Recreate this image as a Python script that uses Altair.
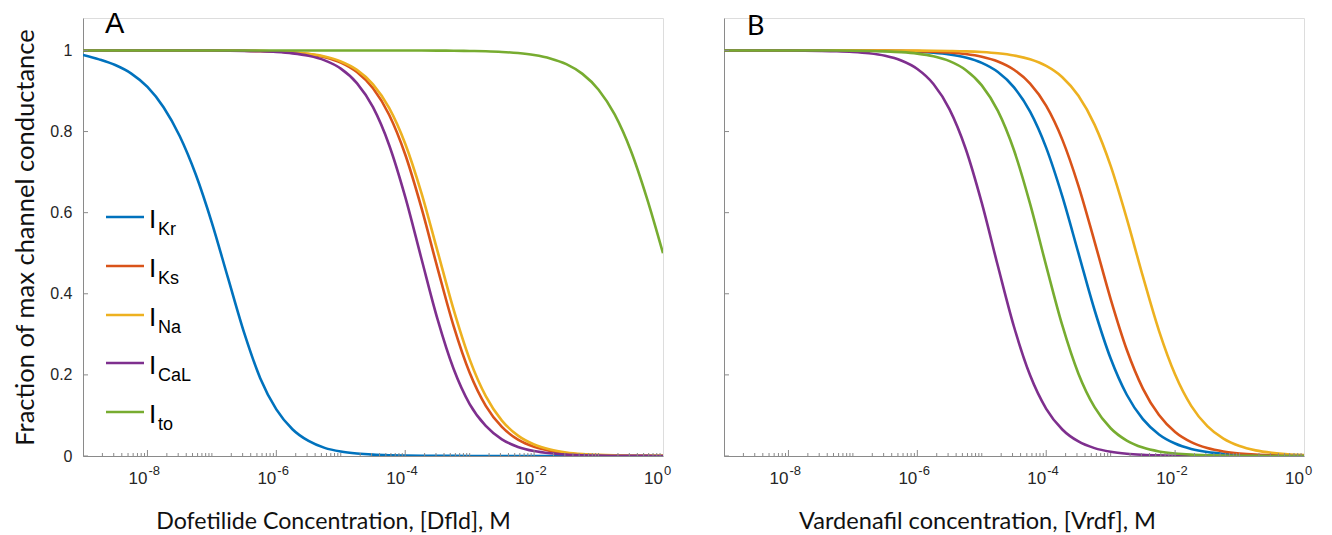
import altair as alt
import pandas as pd

# concentrations (M), quarter-decade steps from 1e-9 to 1
conc = [1e-9, 1.778e-9, 3.162e-9, 5.623e-9, 1e-8, 1.778e-8, 3.162e-8, 5.623e-8,
        1e-7, 1.778e-7, 3.162e-7, 5.623e-7, 1e-6, 1.778e-6, 3.162e-6, 5.623e-6,
        1e-5, 1.778e-5, 3.162e-5, 5.623e-5, 1e-4, 1.778e-4, 3.162e-4, 5.623e-4,
        1e-3, 1.778e-3, 3.162e-3, 5.623e-3, 1e-2, 1.778e-2, 3.162e-2, 5.623e-2,
        1e-1, 1.778e-1, 3.162e-1, 5.623e-1, 1.0]

channels = ["IKr", "IKs", "INa", "ICaL", "Ito"]
subs = ["Kr", "Ks", "Na", "CaL", "to"]
colors = ["#0072BD", "#D95319", "#EDB120", "#7E2F8E", "#77AC30"]

# Panel A: dofetilide
dfld_IKr = [0.989, 0.978, 0.964, 0.943, 0.91, 0.86, 0.789, 0.694, 0.575, 0.439, 0.304, 0.192,
            0.115, 0.066, 0.037, 0.020, 0.011, 0.0061, 0.0033, 0.0018, 0.001, 0.0005, 0.0003,
            0.0002, 0.0001, 0, 0, 0, 0, 0, 0, 0, 0, 0, 0, 0, 0]
dfld_IKs = [1.0, 1.0, 1.0, 1.0, 1.0, 1.0, 0.9999, 0.9999, 0.9998, 0.9996, 0.9992, 0.9985,
            0.9973, 0.995, 0.9909, 0.9835, 0.9702, 0.9467, 0.9066, 0.8414, 0.7434, 0.613,
            0.464, 0.3209, 0.2052, 0.1237, 0.0716, 0.0404, 0.0225, 0.0124, 0.0068, 0.0037,
            0.002, 0.0011, 0.0006, 0.0003, 0.0002]
dfld_INa = [1.0, 1.0, 1.0, 1.0, 1.0, 1.0, 0.9999, 0.9999, 0.9998, 0.9996, 0.9992, 0.9986,
            0.9974, 0.9953, 0.9916, 0.9849, 0.9729, 0.9521, 0.9165, 0.8585, 0.7701, 0.6495,
            0.5059, 0.3614, 0.2383, 0.1475, 0.0872, 0.0502, 0.0284, 0.0159, 0.0088, 0.0049,
            0.0027, 0.0015, 0.0008, 0.0005, 0.0003]
dfld_ICaL = [1.0, 1.0, 1.0, 1.0, 0.9999, 0.9999, 0.9998, 0.9998, 0.9997, 0.9994, 0.9989,
             0.9979, 0.9961, 0.9928, 0.9867, 0.9755, 0.9553, 0.9195, 0.86, 0.767, 0.639,
             0.4876, 0.338, 0.215, 0.128, 0.074, 0.041, 0.0224, 0.0122, 0.0066, 0.0035,
             0.0019, 0.001, 0.0005, 0.0003, 0.0002, 0.0001]
dfld_Ito = [1.0, 1.0, 1.0, 1.0, 1.0, 1.0, 1.0, 1.0, 1.0, 1.0, 1.0, 1.0, 1.0, 1.0, 1.0, 1.0,
            1.0, 1.0, 1.0, 1.0, 0.9999, 0.9998, 0.9996, 0.9993, 0.9988, 0.9979, 0.9963,
            0.9935, 0.9886, 0.9803, 0.9661, 0.9422, 0.9032, 0.8422, 0.7534, 0.636, 0.50]

# Panel B: vardenafil
vrdf_IKr = [1.0, 1.0, 1.0, 1.0, 1.0, 0.9999, 0.9999, 0.9998, 0.9997, 0.9994, 0.999, 0.9982,
            0.9968, 0.9944, 0.9901, 0.9826, 0.9693, 0.9468, 0.9091, 0.849, 0.7597, 0.64,
            0.5, 0.36, 0.2403, 0.151, 0.0909, 0.0532, 0.0307, 0.0175, 0.0099, 0.0056,
            0.0032, 0.0018, 0.001, 0.0006, 0.0003]
vrdf_IKs = [1.0, 1.0, 1.0, 1.0, 1.0, 1.0, 0.9999, 0.9999, 0.9998, 0.9997, 0.9995, 0.9991,
            0.9984, 0.9972, 0.995, 0.9912, 0.9844, 0.9726, 0.9523, 0.9182, 0.8632, 0.7801,
            0.6661, 0.5287, 0.3869, 0.2619, 0.1663, 0.1009, 0.0593, 0.0343, 0.0196, 0.0111,
            0.0063, 0.0035, 0.002, 0.0011, 0.0006]
vrdf_INa = [1.0, 1.0, 1.0, 1.0, 1.0, 1.0, 1.0, 1.0, 1.0, 0.9999, 0.9999, 0.9998, 0.9996,
            0.9993, 0.9987, 0.9978, 0.996, 0.993, 0.9876, 0.9781, 0.9617, 0.934, 0.8882,
            0.8171, 0.7153, 0.5854, 0.4427, 0.3087, 0.2009, 0.1237, 0.0736, 0.0428, 0.0245,
            0.0139, 0.0079, 0.0044, 0.0025]
vrdf_ICaL = [1.0, 1.0, 0.9999, 0.9998, 0.9997, 0.9994, 0.9989, 0.998, 0.9962, 0.9929, 0.9867,
             0.9752, 0.9543, 0.9173, 0.8548, 0.7577, 0.6241, 0.4684, 0.3187, 0.1989, 0.1164,
             0.0654, 0.0358, 0.0194, 0.0104, 0.0055, 0.003, 0.0016, 0.0008, 0.0005, 0.0002,
             0.0001, 0.0001, 0, 0, 0, 0]
vrdf_Ito = [1.0, 1.0, 1.0, 1.0, 0.9999, 0.9999, 0.9998, 0.9997, 0.9994, 0.9988, 0.9977,
            0.9958, 0.9922, 0.9856, 0.9736, 0.9519, 0.9139, 0.8509, 0.7538, 0.6218, 0.4689,
            0.3218, 0.2029, 0.1203, 0.0684, 0.038, 0.0207, 0.0112, 0.0061, 0.0033, 0.0018,
            0.0009, 0.0005, 0.0003, 0.0001, 0.0001, 0.0]

# x tick labels: base "10" with exponent
x_label_values = [1e-8, 1e-6, 1e-4, 1e-2, 1.0]
x_label_exps = ["-8", "-6", "-4", "-2", "0"]
y_tick_values = [0, 0.2, 0.4, 0.6, 0.8, 1.0]
major_x = [1e-8, 1e-6, 1e-4, 1e-2]
minor_x = [d * 10.0 ** k for k in range(-9, 0) for d in range(2, 10)] + [1e-7, 1e-5, 1e-3, 1e-1]

W, H = 580, 438
AXIS_GRAY = "#8a8a8a"
TEXT = "#262626"
TICK_FONT = "Liberation Sans"
TITLE_FONT = "Lato"


def panel(series, xtitle, title_x, title_size, letter, letter_font, letter_size, letter_xy,
          ylabels, with_legend):
    xscale = alt.Scale(type="log", domain=[1e-9, 1.0])
    yscale = alt.Scale(domain=[0, 1.08], nice=False, zero=False)
    xaxis = alt.Axis(values=x_label_values, labels=False, ticks=False, tickSize=0,
                     grid=False, domainColor=AXIS_GRAY, domainWidth=1,
                     title=xtitle, titleFont=TITLE_FONT, titleFontSize=title_size,
                     titleFontWeight="normal", titleColor="#111111", titleX=title_x, titleY=72,
                     titleAlign="center", titleBaseline="alphabetic")
    if ylabels:
        yaxis = alt.Axis(values=y_tick_values, ticks=False, tickSize=0, grid=False,
                         domainColor=AXIS_GRAY, domainWidth=1, labelFont=TICK_FONT,
                         labelFontSize=16, labelColor=TEXT, labelPadding=11,
                         labelExpr="datum.value == 0 ? '0' : datum.value == 1 ? '1' : format(datum.value, '.1f')",
                         title="Fraction of max channel conductance", titleFont=TITLE_FONT,
                         titleFontSize=25.5, titleFontWeight="normal", titleColor="#111111",
                         titleX=-50, titleY=H / 2, titleAngle=-90, titleAlign="center",
                         titleBaseline="alphabetic")
    else:
        yaxis = alt.Axis(values=y_tick_values, ticks=False, tickSize=0, grid=False,
                         domainColor=AXIS_GRAY, domainWidth=1, labels=False, title=None)

    layers = []
    for i, (name, vals) in enumerate(zip(channels, series)):
        df = pd.DataFrame({"conc": conc, "value": vals, "channel": name})
        layers.append(
            alt.Chart(df).mark_line(strokeWidth=2.6, interpolate="monotone", color=colors[i], clip=True)
            .encode(x=alt.X("conc:Q", scale=xscale, axis=xaxis),
                    y=alt.Y("value:Q", scale=yscale, axis=yaxis))
        )

    # inward ticks (MATLAB style)
    layers.append(alt.Chart(pd.DataFrame({"conc": minor_x})).mark_rule(color=AXIS_GRAY, strokeWidth=1)
                  .encode(x="conc:Q", y=alt.value(H), y2=alt.value(H - 3)))
    layers.append(alt.Chart(pd.DataFrame({"conc": major_x})).mark_rule(color=AXIS_GRAY, strokeWidth=1)
                  .encode(x="conc:Q", y=alt.value(H), y2=alt.value(H - 6)))
    layers.append(alt.Chart(pd.DataFrame({"value": y_tick_values})).mark_rule(color=AXIS_GRAY, strokeWidth=1)
                  .encode(y="value:Q", x=alt.value(0), x2=alt.value(5)))

    # x tick labels 10^n (base + raised exponent)
    lab = pd.DataFrame({"conc": x_label_values, "exp": x_label_exps, "base": ["10"] * 5})
    layers.append(alt.Chart(lab).mark_text(align="right", baseline="alphabetic", font=TICK_FONT,
                                           fontSize=17, color=TEXT, dx=0)
                  .encode(x="conc:Q", y=alt.value(H + 28), text="base:N"))
    layers.append(alt.Chart(lab).mark_text(align="left", baseline="alphabetic", font=TICK_FONT,
                                           fontSize=13, color=TEXT, dx=1)
                  .encode(x="conc:Q", y=alt.value(H + 19), text="exp:N"))

    # panel letter
    layers.append(alt.Chart(pd.DataFrame({"t": [letter]}))
                  .mark_text(align="left", baseline="alphabetic", font=letter_font,
                             fontSize=letter_size, color="#000000")
                  .encode(x=alt.value(letter_xy[0]), y=alt.value(letter_xy[1]), text="t:N"))

    if with_legend:
        rows = [199, 248, 297, 345, 394]
        leg = pd.DataFrame({"channel": channels, "sub": subs, "color": colors, "ypix": rows,
                            "ybig": [r + 11 for r in rows], "ysub": [r + 18 for r in rows],
                            "I": ["I"] * 5})
        layers.append(alt.Chart(leg).mark_rule(strokeWidth=2.6)
                      .encode(x=alt.value(23), x2=alt.value(61),
                              y=alt.Y("ypix:Q", scale=None),
                              color=alt.Color("color:N", scale=None)))
        layers.append(alt.Chart(leg).mark_text(align="left", baseline="alphabetic",
                                               font=TICK_FONT, fontSize=26, color="#000000")
                      .encode(x=alt.value(66), y=alt.Y("ybig:Q", scale=None), text="I:N"))
        layers.append(alt.Chart(leg).mark_text(align="left", baseline="alphabetic",
                                               font=TICK_FONT, fontSize=18, color="#000000")
                      .encode(x=alt.value(75), y=alt.Y("ysub:Q", scale=None), text="sub:N"))

    return alt.layer(*layers).properties(width=W, height=H)


pA = panel([dfld_IKr, dfld_IKs, dfld_INa, dfld_ICaL, dfld_Ito],
           "Dofetilide Concentration, [Dfld], M", 250, 23.2, "A", "Liberation Sans", 29, (22, 15),
           True, True)
pB = panel([vrdf_IKr, vrdf_IKs, vrdf_INa, vrdf_ICaL, vrdf_Ito],
           "Vardenafil concentration, [Vrdf], M", 253, 23.6, "B", "Lato", 27, (23, 17),
           False, False)

chart = (alt.hconcat(pA, pB, spacing=51)
         .properties(padding={"left": 4, "top": 1, "right": 0, "bottom": 0})
         .configure_view(stroke=None)
         .configure(background="white"))

chart.save("out.html", embed_options={"renderer": "svg", "actions": False})
